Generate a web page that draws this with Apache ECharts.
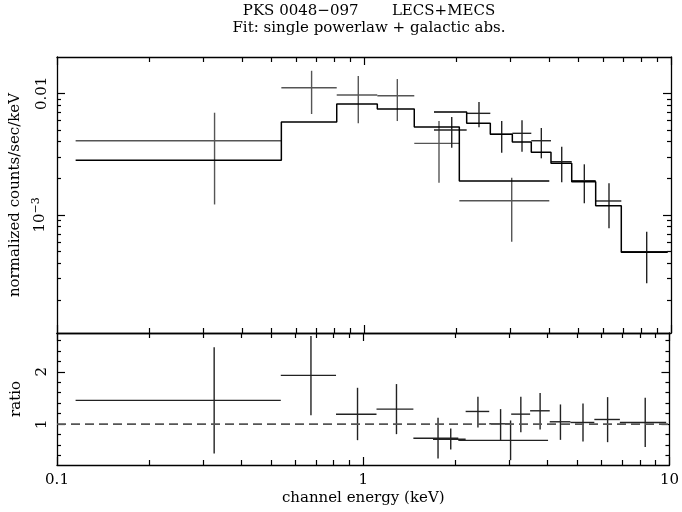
<!DOCTYPE html>
<html>
<head>
<meta charset="utf-8">
<script src="https://cdn.jsdelivr.net/npm/echarts@6/dist/echarts.min.js"></script>
<style>
  html, body { margin: 0; padding: 0; background: #fff; }
  #chart { width: 682px; height: 512px; }
</style>
</head>
<body>
<div id="chart"></div>
<script>
// ---- LECS spectrum: bin edges (keV), bin centres, flux and 1-sigma bounds ----
const lecsLo     = [0.115, 0.538, 0.815, 1.105, 1.458, 2.044];
const lecsHi     = [0.538, 0.815, 1.105, 1.458, 2.044, 4.014];
const lecsE      = [0.326, 0.675, 0.958, 1.284, 1.755, 3.028];
const lecsFlux   = [0.00408, 0.01112, 0.00968, 0.00956, 0.00388, 0.00131];
const lecsFluxLo = [0.00122, 0.00676, 0.00567, 0.00592, 0.00184, 0.000603];
const lecsFluxHi = [0.00693, 0.01533, 0.01388, 0.01311, 0.00592, 0.002025];
const lecsModel  = [0.002814, 0.005808, 0.008168, 0.00743, 0.005285, 0.001903];
const lecsRatio   = [1.453, 1.931, 1.19, 1.287, 0.732, 0.69];
const lecsRatioLo = [0.44, 1.172, 0.694, 0.809, 0.344, 0.312];
const lecsRatioHi = [2.466, 2.683, 1.694, 1.765, 1.121, 1.07];

// ---- MECS spectrum ----
const mecsLo     = [1.69, 2.16, 2.579, 3.042, 3.507, 4.065, 4.749, 5.684, 6.888];
const mecsHi     = [2.16, 2.579, 3.042, 3.507, 4.065, 4.749, 5.684, 6.888, 9.756];
const mecsE      = [1.931, 2.369, 2.809, 3.271, 3.781, 4.406, 5.22, 6.281, 8.334];
const mecsFlux   = [0.004994, 0.006849, 0.004603, 0.004691, 0.004077, 0.002742, 0.001913, 0.001303, 0.0004994];
const mecsFluxLo = [0.003573, 0.005255, 0.00325, 0.003312, 0.002922, 0.001856, 0.001248, 0.000777, 0.0002746];
const mecsFluxHi = [0.006387, 0.008482, 0.005919, 0.005998, 0.005187, 0.00364, 0.002609, 0.001821, 0.0007291];
const mecsModel  = [0.007021, 0.005668, 0.004603, 0.003979, 0.003275, 0.002659, 0.001877, 0.001192, 0.0004938];
const mecsRatio   = [0.713, 1.242, 1.006, 1.191, 1.255, 1.045, 1.032, 1.089, 1.032];
const mecsRatioLo = [0.516, 0.937, 0.694, 0.847, 0.898, 0.70, 0.669, 0.656, 0.566];
const mecsRatioHi = [0.917, 1.522, 1.287, 1.522, 1.593, 1.376, 1.395, 1.516, 1.503];

// ---- axis ticks ----
const energyMajor = [0.1, 1, 10];
const energyMinor = [0.2, 0.3, 0.4, 0.5, 0.6, 0.7, 0.8, 0.9, 2, 3, 4, 5, 6, 7, 8, 9];
const energyLabels = [0.1, 1, 10];
const fluxMajor = [0.001, 0.01];
const fluxMinor = [0.0002, 0.0003, 0.0004, 0.0005, 0.0006, 0.0007, 0.0008, 0.0009,
                   0.002, 0.003, 0.004, 0.005, 0.006, 0.007, 0.008, 0.009];
const ratioMajor = [1, 2];
const ratioMinor = [0.4, 0.6, 0.8, 1.2, 1.4, 1.6, 1.8, 2.2, 2.4, 2.6];

const FONT = 'DejaVu Serif';
const FS = 15;
const INK = '#000';

const chart = echarts.init(document.getElementById('chart'), null, { renderer: 'canvas' });

const grids = [
  { left: 57, top: 57, width: 614, height: 276 },
  { left: 57, top: 333, width: 614, height: 132 }
];

// one axis per (panel, side, tick size); each carries its own custom tick list
function xAxisDef(gridIndex, position, ticks, len, opts) {
  return Object.assign({
    type: 'log', logBase: 10, min: 0.1, max: 10, gridIndex, position,
    axisLine: { show: len > 6, lineStyle: { color: INK, width: 1.3 } },
    axisTick: { show: true, inside: true, length: len, customValues: ticks, lineStyle: { color: INK, width: 1.2 } },
    axisLabel: { show: false },
    splitLine: { show: false }, minorTick: { show: false }
  }, opts || {});
}
function yAxisDef(gridIndex, position, type, min, max, ticks, len, opts) {
  const a = {
    type, min, max, gridIndex, position,
    axisLine: { show: len > 6, lineStyle: { color: INK, width: 1.3 } },
    axisTick: { show: true, inside: true, length: len, customValues: ticks, lineStyle: { color: INK, width: 1.2 } },
    axisLabel: { show: false },
    splitLine: { show: false }, minorTick: { show: false }
  };
  if (type === 'log') a.logBase = 10;
  return Object.assign(a, opts || {});
}

const FMIN = 1.07e-4, FMAX = 0.0199;
const RMIN = 0.22, RMAX = 2.74;

const xAxes = [
  xAxisDef(0, 'bottom', energyMajor, 8),
  xAxisDef(0, 'bottom', energyMinor, 5),
  xAxisDef(0, 'top', energyMajor, 8),
  xAxisDef(0, 'top', energyMinor, 5),
  xAxisDef(1, 'bottom', energyMajor, 8, {
    axisLabel: {
      show: true, customValues: energyLabels, margin: 8,
      fontFamily: FONT, fontSize: FS, color: INK,
      formatter: v => String(v)
    },
    name: 'channel energy (keV)', nameLocation: 'middle', nameGap: 26,
    nameTextStyle: { fontFamily: FONT, fontSize: FS, color: INK }
  }),
  xAxisDef(1, 'bottom', energyMinor, 5),
  xAxisDef(1, 'top', energyMajor, 8),
  xAxisDef(1, 'top', energyMinor, 5)
];

const yAxes = [
  yAxisDef(0, 'left', 'log', FMIN, FMAX, fluxMajor, 8, {
    axisLabel: {
      show: true, customValues: fluxMajor, rotate: 90, margin: 7,
      fontFamily: FONT, fontSize: FS, color: INK,
      formatter: v => (v > 0.005 ? '0.01' : '10{sup|\u22123}'),
      rich: { sup: { fontFamily: FONT, fontSize: 11, color: INK, padding: [0, 0, 8, 0] } }
    },
    name: 'normalized counts/sec/keV', nameLocation: 'middle', nameGap: 33, nameRotate: 90,
    nameTextStyle: { fontFamily: FONT, fontSize: FS, color: INK }
  }),
  yAxisDef(0, 'left', 'log', FMIN, FMAX, fluxMinor, 4),
  yAxisDef(0, 'right', 'log', FMIN, FMAX, fluxMajor, 8),
  yAxisDef(0, 'right', 'log', FMIN, FMAX, fluxMinor, 4),
  yAxisDef(1, 'left', 'value', RMIN, RMAX, ratioMajor, 8, {
    axisLabel: {
      show: true, customValues: ratioMajor, rotate: 90, margin: 7,
      fontFamily: FONT, fontSize: FS, color: INK,
      formatter: v => String(v)
    },
    name: 'ratio', nameLocation: 'middle', nameGap: 33, nameRotate: 90,
    nameTextStyle: { fontFamily: FONT, fontSize: FS, color: INK }
  }),
  yAxisDef(1, 'left', 'value', RMIN, RMAX, ratioMinor, 4),
  yAxisDef(1, 'right', 'value', RMIN, RMAX, ratioMajor, 8),
  yAxisDef(1, 'right', 'value', RMIN, RMAX, ratioMinor, 4)
];

// error crosses: horizontal bar across the bin, vertical bar over the 1-sigma range
function crossSeries(xIdx, yIdx, centre, lo, hi, val, vLo, vHi, color) {
  const data = centre.map((c, i) => [c, lo[i], hi[i], val[i], vLo[i], vHi[i]]);
  return {
    type: 'custom', xAxisIndex: xIdx, yAxisIndex: yIdx, data, clip: true,
    encode: { x: [0, 1, 2], y: [3, 4, 5] },
    animation: false, silent: true,
    renderItem(params, api) {
      const pL = api.coord([api.value(1), api.value(3)]);
      const pR = api.coord([api.value(2), api.value(3)]);
      const pT = api.coord([api.value(0), api.value(5)]);
      const pB = api.coord([api.value(0), api.value(4)]);
      const style = { stroke: color, lineWidth: 1.4 };
      return {
        type: 'group',
        children: [
          { type: 'line', shape: { x1: pL[0], y1: pL[1], x2: pR[0], y2: pR[1] }, style },
          { type: 'line', shape: { x1: pT[0], y1: pT[1], x2: pB[0], y2: pB[1] }, style }
        ]
      };
    }
  };
}

// folded model drawn as a histogram over the bins
function modelSeries(lo, hi, model) {
  const pts = lo.map((x, i) => [x, model[i]]);
  pts.push([hi[hi.length - 1], model[model.length - 1]]);
  return {
    type: 'line', xAxisIndex: 0, yAxisIndex: 0, step: 'end', data: pts,
    symbol: 'none', lineStyle: { color: INK, width: 1.5 }, animation: false, silent: true
  };
}

const series = [
  modelSeries(lecsLo, lecsHi, lecsModel),
  modelSeries(mecsLo, mecsHi, mecsModel),
  crossSeries(0, 0, lecsE, lecsLo, lecsHi, lecsFlux, lecsFluxLo, lecsFluxHi, '#555'),
  crossSeries(0, 0, mecsE, mecsLo, mecsHi, mecsFlux, mecsFluxLo, mecsFluxHi, '#222'),
  {
    type: 'line', xAxisIndex: 4, yAxisIndex: 4, data: [[0.1, 1], [10, 1]],
    symbol: 'none', lineStyle: { color: '#555', width: 1.6, type: [9, 5] },
    animation: false, silent: true
  },
  crossSeries(4, 4, lecsE, lecsLo, lecsHi, lecsRatio, lecsRatioLo, lecsRatioHi, '#222'),
  crossSeries(4, 4, mecsE, mecsLo, mecsHi, mecsRatio, mecsRatioLo, mecsRatioHi, '#222')
];

chart.setOption({
  backgroundColor: '#fff',
  animation: false,
  grid: grids,
  xAxis: xAxes,
  yAxis: yAxes,
  series,
  graphic: [
    {
      type: 'text', x: 369, y: 11, z: 10,
      style: {
        text: 'PKS 0048\u2212097       LECS+MECS',
        font: FS + 'px "' + FONT + '"', fill: INK,
        textAlign: 'center', textVerticalAlign: 'middle'
      }
    },
    {
      type: 'text', x: 369, y: 28, z: 10,
      style: {
        text: 'Fit: single powerlaw + galactic abs.',
        font: FS + 'px "' + FONT + '"', fill: INK,
        textAlign: 'center', textVerticalAlign: 'middle'
      }
    }
  ]
});
</script>
</body>
</html>
